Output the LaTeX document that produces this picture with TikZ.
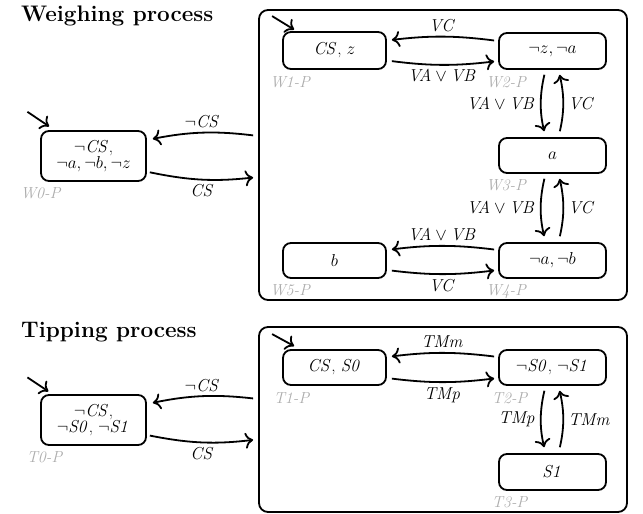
\documentclass[tikz,border=0pt]{standalone}
\usetikzlibrary{arrows.meta}
\begin{document}
\begin{tikzpicture}[x=1pt,y=-1pt,
  state/.style={draw, line width=1.8pt, rounded corners=8pt, minimum height=35pt, inner sep=0pt, font=\fontsize{17}{15}\selectfont, align=center},
  procbox/.style={draw, line width=1.8pt, rounded corners=9pt, inner sep=0pt},
  ttl/.style={font=\fontsize{22.5}{26}\selectfont\bfseries, anchor=base west, inner sep=0pt},
  plbl/.style={text=black!32, font=\fontsize{16}{18}\selectfont\itshape, inner sep=0pt},
  arr/.style={-{Computer Modern Rightarrow[length=8pt,width=16pt]}, line width=1.8pt},
  elbl/.style={font=\fontsize{16.5}{18}\selectfont, inner sep=4.5pt}]
\useasboundingbox (0,0) rectangle (643,514);

% ---------------- Weighing process ----------------
\node[ttl] (tw) at (21,21) {Weighing process};
\node[procbox, minimum width=368pt, minimum height=290pt] (WP) at (443,155) {};
\node[state, minimum width=105pt, minimum height=50pt] (W0) at (93.5,156) {$\neg\mathit{CS}$,\\$\neg a, \neg b, \neg z$};
\node[state, minimum width=103pt, minimum height=37pt] (W1) at (334.5,50.5) {$\mathit{CS}$, $z$};
\node[state, minimum width=107pt, minimum height=36pt] (W2) at (552.5,51) {$\neg z, \neg a$};
\node[state, minimum width=107pt] (W3) at (552.5,155.5) {$a$};
\node[state, minimum width=107pt] (W4) at (552.5,260.5) {$\neg a, \neg b$};
\node[state, minimum width=103pt] (W5) at (334.5,260.5) {$b$};

\node[plbl] (lW0) at (40.5,193) {W0-P};
\node[plbl] (lW1) at (290,82) {W1-P};
\node[plbl] (lW2) at (506,82) {W2-P};
\node[plbl] (lW3) at (506,185) {W3-P};
\node[plbl] (lW4) at (506,292) {W4-P};
\node[plbl] (lW5) at (290,290) {W5-P};

\coordinate (iW0) at ([shift={(-12.7pt,18.3pt)}]W0.north west);
\draw[arr] (iW0) -- ([shift={(9pt,3.7pt)}]W0.north west);
\coordinate (iW1) at ([shift={(-10pt,15pt)}]W1.north west);
\draw[arr] (iW1) -- ([shift={(12pt,1.5pt)}]W1.north west);

\draw[arr, shorten <=5pt, shorten >=6pt] ([yshift=19pt]WP.west) to[bend right=9] node[elbl, above] {$\neg\mathit{CS}$} ([yshift=16pt]W0.east);
\draw[arr, shorten <=3pt, shorten >=5pt] ([yshift=-15.7pt]W0.east) to[bend right=9] node[elbl, below] {$\mathit{CS}$} ([yshift=-22pt]WP.west);

\draw[arr, shorten <=4pt, shorten >=5pt] ([yshift=10pt]W2.west) to[bend right=7] node[elbl, above] {$\mathit{VC}$} ([yshift=10pt]W1.east);
\draw[arr, shorten <=5pt, shorten >=4pt] ([yshift=-10pt]W1.east) to[bend right=7] node[elbl, below] {$\mathit{VA} \vee \mathit{VB}$} ([yshift=-10pt]W2.west);

\draw[arr, shorten <=5pt, shorten >=6pt] ([xshift=-7pt]W2.south) to[bend right=13] node[elbl, left] {$\mathit{VA} \vee \mathit{VB}$} ([xshift=-7pt]W3.north);
\draw[arr, shorten <=6pt, shorten >=5pt] ([xshift=6pt]W3.north) to[bend right=13] node[elbl, right] {$\mathit{VC}$} ([xshift=6pt]W2.south);

\draw[arr, shorten <=5pt, shorten >=6pt] ([xshift=-7pt]W3.south) to[bend right=13] node[elbl, left] {$\mathit{VA} \vee \mathit{VB}$} ([xshift=-7pt]W4.north);
\draw[arr, shorten <=6pt, shorten >=5pt] ([xshift=6pt]W4.north) to[bend right=13] node[elbl, right] {$\mathit{VC}$} ([xshift=6pt]W3.south);

\draw[arr, shorten <=4pt, shorten >=5pt] ([yshift=10.5pt]W4.west) to[bend right=7] node[elbl, above] {$\mathit{VA} \vee \mathit{VB}$} ([yshift=10.5pt]W5.east);
\draw[arr, shorten <=5pt, shorten >=4pt] ([yshift=-9.5pt]W5.east) to[bend right=7] node[elbl, below] {$\mathit{VC}$} ([yshift=-9.5pt]W4.west);

% ---------------- Tipping process ----------------
\node[ttl] (tt) at (21,337) {Tipping process};
\node[procbox, minimum width=368pt, minimum height=185pt] (TP) at (443,419.5) {};
\node[state, minimum width=105pt, minimum height=50pt] (T0) at (93.5,420) {$\neg\mathit{CS}$,\\$\neg\mathit{S0}$, $\neg\mathit{S1}$};
\node[state, minimum width=103pt] (T1) at (334.5,367.5) {$\mathit{CS}$, $\mathit{S0}$};
\node[state, minimum width=107pt] (T2) at (552.5,367.5) {$\neg\mathit{S0}$, $\neg\mathit{S1}$};
\node[state, minimum width=107pt, minimum height=36pt] (T3) at (552.5,472) {$\mathit{S1}$};

\node[plbl] (lT0) at (44.5,457) {T0-P};
\node[plbl] (lT1) at (291.5,398) {T1-P};
\node[plbl] (lT2) at (509.5,398) {T2-P};
\node[plbl] (lT3) at (509.5,502) {T3-P};

\coordinate (iT0) at ([shift={(-12.7pt,16.7pt)}]T0.north west);
\draw[arr] (iT0) -- ([shift={(8.3pt,2.7pt)}]T0.north west);
\coordinate (iT1) at ([shift={(-10pt,15pt)}]T1.north west);
\draw[arr] (iT1) -- ([shift={(12pt,3pt)}]T1.north west);

\draw[arr, shorten <=5pt, shorten >=6pt] ([yshift=20.5pt]TP.west) to[bend right=9] node[elbl, above] {$\neg\mathit{CS}$} ([yshift=16pt]T0.east);
\draw[arr, shorten <=3pt, shorten >=5pt] ([yshift=-15pt]T0.east) to[bend right=9] node[elbl, below] {$\mathit{CS}$} ([yshift=-19.8pt]TP.west);

\draw[arr, shorten <=4pt, shorten >=5pt] ([yshift=10.5pt]T2.west) to[bend right=7] node[elbl, above] {$\mathit{TMm}$} ([yshift=10.5pt]T1.east);
\draw[arr, shorten <=5pt, shorten >=4pt] ([yshift=-10.5pt]T1.east) to[bend right=7] node[elbl, below] {$\mathit{TMp}$} ([yshift=-10.5pt]T2.west);

\draw[arr, shorten <=5pt, shorten >=6pt] ([xshift=-7pt]T2.south) to[bend right=13] node[elbl, left] {$\mathit{TMp}$} ([xshift=-7pt]T3.north);
\draw[arr, shorten <=6pt, shorten >=5pt] ([xshift=6pt]T3.north) to[bend right=13] node[elbl, right] {$\mathit{TMm}$} ([xshift=6pt]T2.south);
\end{tikzpicture}
\end{document}
